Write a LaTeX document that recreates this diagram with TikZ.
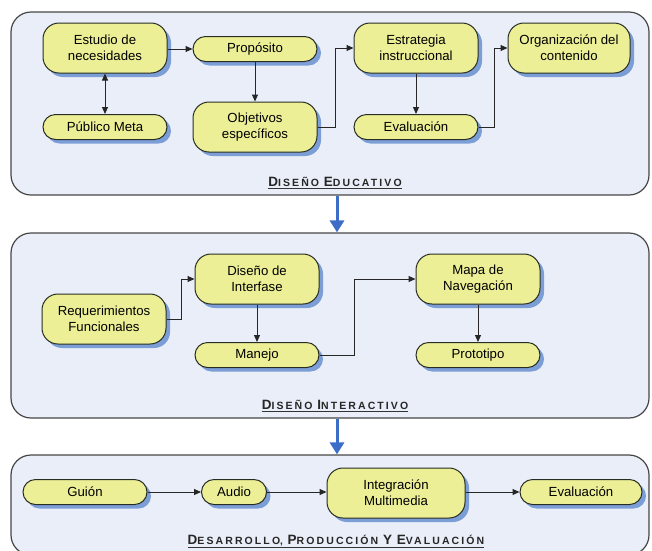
\documentclass[tikz,border=0pt]{standalone}
\usepackage{fontspec}
\setmainfont{Liberation Sans}
\newfontfamily\lblfont[LetterSpace=20]{Liberation Sans}
\usetikzlibrary{arrows.meta,shadows,calc}
\definecolor{panelfill}{RGB}{233,238,248}
\definecolor{panelline}{RGB}{70,70,70}
\definecolor{boxfill}{RGB}{236,239,150}
\definecolor{boxline}{RGB}{40,45,35}
\definecolor{shadowblue}{RGB}{105,145,210}
\definecolor{arrowblue}{RGB}{60,110,200}
% fake small caps: large initial, smaller capitals after it
\newcommand{\capword}[2]{{\fontsize{13.5}{13.5}\selectfont #1}{\fontsize{10.5}{10.5}\selectfont #2}}
\tikzset{
  box/.style={draw=boxline, fill=boxfill, line width=1pt, align=center,
    font=\fontsize{13.2}{16}\selectfont, inner sep=0pt, minimum width=124pt,
    drop shadow={shadow xshift=4pt, shadow yshift=-4pt, fill=shadowblue, opacity=0.85}},
  onebox/.style={box, minimum height=25pt, rounded corners=12.5pt},
  twobox/.style={box, minimum height=50pt, rounded corners=16pt},
  flow/.style={-{Triangle[length=7pt,width=6pt]}, line width=1pt, draw=black!85},
  twoway/.style={{Triangle[length=7pt,width=6pt]}-{Triangle[length=7pt,width=6pt]}, line width=1pt, draw=black!85},
  panel/.style={draw=panelline, line width=1.2pt, fill=panelfill, rounded corners=20pt,
    minimum width=638pt, inner sep=0pt},
  bigarrow/.style={-{Triangle[length=12pt,width=14pt]}, line width=3pt, draw=arrowblue},
  paneltitle/.style={font=\lblfont\bfseries, inner sep=0pt, text=black!85},
  underline/.style={line width=1pt, draw=black!80}
}
\begin{document}
\begin{tikzpicture}[x=1pt,y=-1pt]
\useasboundingbox (0,0) rectangle (652,550);

% panels
\node[panel, minimum height=183pt] (p1) at (330,103.5) {};
\node[panel, minimum height=185pt] (p2) at (330,325.5) {};
\node[panel, minimum height=100pt] (p3) at (330,505) {};

% panel titles
\node[paneltitle, anchor=base] (t1) at (335,186) {\capword{D}{ISEÑO} \capword{E}{DUCATIVO}};
\node[paneltitle, anchor=base] (t2) at (335,409) {\capword{D}{ISEÑO} \capword{I}{NTERACTIVO}};
\node[paneltitle, anchor=base] (t3) at (336,544) {\capword{D}{ESARROLLO}, \capword{P}{RODUCCIÓN} \capword{Y}{} \capword{E}{VALUACIÓN}};
\foreach \t in {t1,t2,t3}
  \draw[underline] ([yshift=-2pt]\t.south west) -- ([yshift=-2pt]\t.south east);

% arrows between panels
\draw[bigarrow] ([xshift=7pt]p1.south) -- ([xshift=7pt]p2.north);
\draw[bigarrow] ([xshift=7pt]p2.south) -- ([xshift=7pt]p3.north);

% educational design
\node[twobox] (est) at (105,48) {Estudio de\\necesidades};
\node[onebox] (pro) at (255,49) {Propósito};
\node[onebox] (pub) at (105,127) {Público Meta};
\node[twobox] (obj) at (255,127) {Objetivos\\específicos};
\node[twobox] (estr) at (416,48) {Estrategia\\instruccional};
\node[onebox] (eva) at (416,127) {Evaluación};
\node[twobox, minimum width=122pt] (org) at (569,48) {Organización del\\contenido};

\draw[flow] (est.east |- pro.west) -- (pro.west);
\draw[twoway] (est.south) -- (pub.north);
\draw[flow] (pro.south) -- (obj.north);
\draw[flow] (obj.east) -- ([xshift=18pt]obj.east) |- (estr.west);
\draw[flow] (estr.south) -- (eva.north);
\draw[flow] (eva.east) -- ([xshift=16pt]eva.east) |- (org.west);

% interactive design
\node[twobox] (req) at (104,319) {Requerimientos\\Funcionales};
\node[twobox] (dis) at (257,279) {Diseño de\\Interfase};
\node[onebox] (man) at (257,355) {Manejo};
\node[twobox] (map) at (478,279) {Mapa de\\Navegación};
\node[onebox] (prot) at (478,355) {Prototipo};

\draw[flow] (req.east) -- ([xshift=15pt]req.east) |- (dis.west);
\draw[flow] (dis.south) -- (man.north);
\draw[flow] (man.east) -- ([xshift=35pt]man.east) |- (map.west);
\draw[flow] (map.south) -- (prot.north);

% development, production and evaluation
\node[onebox] (gui) at (85,492) {Guión};
\node[onebox, minimum width=65pt] (aud) at (234,492) {Audio};
\node[twobox, minimum width=138pt] (int) at (396,493) {Integración\\Multimedia};
\node[onebox, minimum width=122pt] (evf) at (581,492) {Evaluación};

\draw[flow] (gui.east) -- (aud.west);
\draw[flow] (aud.east) -- (aud.east -| int.west);
\draw[flow] (int.east |- evf.west) -- (evf.west);
\end{tikzpicture}
\end{document}
